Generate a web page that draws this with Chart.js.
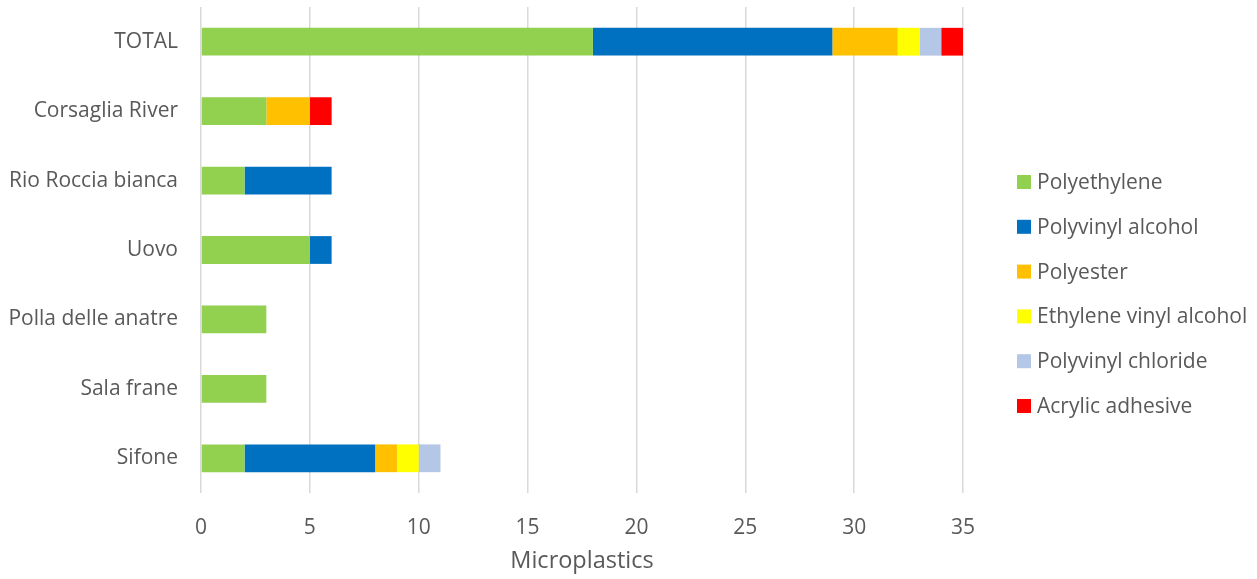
<!DOCTYPE html>
<html>
<head>
<meta charset="utf-8">
<script src="https://cdn.jsdelivr.net/npm/chart.js@4.4.1/dist/chart.umd.min.js"></script>
<style>
  html, body { margin: 0; padding: 0; background: #fff; }
  #wrap { width: 1257px; height: 579px; position: relative; }
</style>
</head>
<body>
<div id="wrap"><canvas id="mpChart" width="1257" height="579"></canvas></div>
<script>
// sites, top to bottom
const sites = ["TOTAL", "Corsaglia River", "Rio Roccia bianca", "Uovo", "Polla delle anatre", "Sala frane", "Sifone"];

// counts per polymer, same order as sites
const polyethylene     = [18, 3, 2, 5, 3, 3, 2];
const polyvinylAlcohol = [11, 0, 4, 1, 0, 0, 6];
const polyester        = [3, 2, 0, 0, 0, 0, 1];
const ethyleneVinyl    = [1, 0, 0, 0, 0, 0, 1];
const polyvinylChlor   = [1, 0, 0, 0, 0, 0, 1];
const acrylicAdhesive  = [1, 1, 0, 0, 0, 0, 0];

const xTicks = [0, 5, 10, 15, 20, 25, 30, 35];

const FONT = "'Open Sans', sans-serif";
const TEXT = "#595959";

const series = [
  { label: "Polyethylene", data: polyethylene, color: "#92d050" },
  { label: "Polyvinyl alcohol", data: polyvinylAlcohol, color: "#0070c0" },
  { label: "Polyester", data: polyester, color: "#ffc000" },
  { label: "Ethylene vinyl alcohol", data: ethyleneVinyl, color: "#ffff00" },
  { label: "Polyvinyl chloride", data: polyvinylChlor, color: "#b4c7e7" },
  { label: "Acrylic adhesive", data: acrylicAdhesive, color: "#ff0000" },
];

// legend drawn by hand so it sits where it should, right of the plot
const sideLegend = {
  id: "sideLegend",
  afterDraw(chart) {
    const ctx = chart.ctx;
    ctx.save();
    ctx.font = `21px ${FONT}`;
    ctx.textBaseline = "middle";
    ctx.textAlign = "left";
    chart.data.datasets.forEach((ds, i) => {
      const y = 182 + i * 44.8;
      ctx.fillStyle = ds.backgroundColor;
      ctx.fillRect(1017, y - 7, 14, 14);
      ctx.fillStyle = TEXT;
      ctx.fillText(ds.label, 1037, y + 1);
    });
    ctx.restore();
  }
};

new Chart(document.getElementById("mpChart").getContext("2d"), {
  type: "bar",
  data: {
    labels: sites,
    datasets: series.map((s) => ({
      label: s.label,
      data: s.data,
      backgroundColor: s.color,
      borderWidth: 0,
      barPercentage: 0.4,
      categoryPercentage: 1.0,
    })),
  },
  options: {
    indexAxis: "y",
    responsive: false,
    animation: false,
    layout: { padding: { top: 7, right: 294, left: 0, bottom: 0 } },
    plugins: { legend: { display: false }, tooltip: { enabled: false } },
    scales: {
      x: {
        stacked: true,
        min: 0,
        max: 35,
        afterBuildTicks: (axis) => { axis.ticks = xTicks.map((v) => ({ value: v })); },
        afterFit: (axis) => { axis.height = 86; },
        grid: { color: "#d9d9d9", lineWidth: 1.5, drawTicks: false },
        border: { display: false },
        ticks: { color: TEXT, font: { family: FONT, size: 21 }, padding: 22 },
        title: {
          display: true,
          text: "Microplastics",
          color: TEXT,
          font: { family: FONT, size: 23.5 },
          padding: { top: 0, bottom: 4 },
        },
      },
      y: {
        stacked: true,
        afterFit: (axis) => {
          axis.width = 201;
          // no extra room above/below for the first and last label
          axis.paddingTop = 0;
          axis.paddingBottom = 0;
        },
        grid: { display: false },
        border: { display: false },
        ticks: { color: TEXT, font: { family: FONT, size: 21 }, padding: 15 },
      },
    },
  },
  plugins: [sideLegend],
});
</script>
</body>
</html>
